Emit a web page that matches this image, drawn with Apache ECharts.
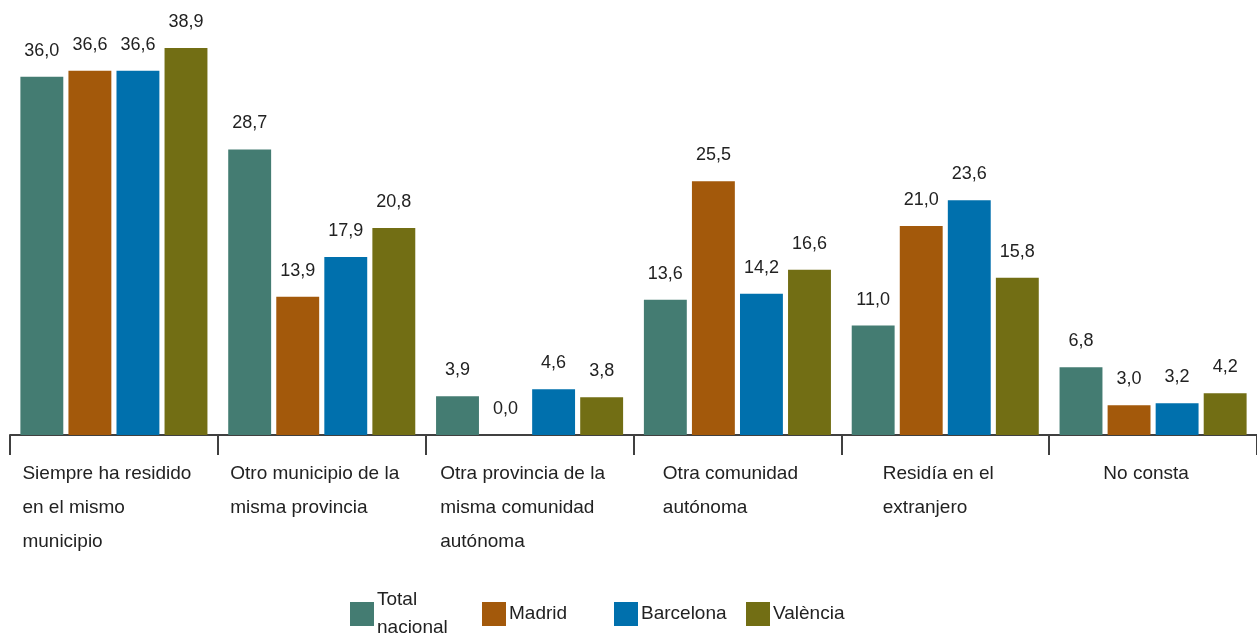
<!DOCTYPE html>
<html><head><meta charset="utf-8">
<script src="https://cdn.jsdelivr.net/npm/echarts@6/dist/echarts.min.js"></script>
<style>html,body{margin:0;padding:0;background:#fff}#c{width:1257px;height:636px}</style>
</head><body><div id="c"></div>
<script>
var categories = ["Siempre ha residido\nen el mismo\nmunicipio","Otro municipio de la\nmisma provincia","Otra provincia de la\nmisma comunidad\nautónoma","Otra comunidad\nautónoma","Residía en el\nextranjero","No consta"];
var seriesNames = ["Total nacional","Madrid","Barcelona","València"];
var totalNacional = [36.0, 28.7, 3.9, 13.6, 11.0, 6.8];
var madrid = [36.6, 13.9, 0.0, 25.5, 21.0, 3.0];
var barcelona = [36.6, 17.9, 4.6, 14.2, 23.6, 3.2];
var valencia = [38.9, 20.8, 3.8, 16.6, 15.8, 4.2];
var colors = ["#447c72","#a3590b","#0070ad","#726e14"];
var allData = [totalNacional, madrid, barcelona, valencia];

var chart = echarts.init(document.getElementById('c'));
var font = 'Liberation Sans, Arial, sans-serif';
chart.setOption({
  animation:false,
  grid:{left:10,right:0,top:37,bottom:201},
  legend:{
    left:350, top:586, padding:0, itemWidth:24, itemHeight:24, itemGap:5, icon:'rect',
    textStyle:{fontFamily:font,fontSize:19,color:'#222',width:100,overflow:'break',lineHeight:28,padding:[0,0,0,-2]},
    formatter:function(n){return n==='Total nacional'?'Total\nnacional':n;},
    data:seriesNames
  },
  xAxis:{
    type:'category', data:categories,
    axisLine:{show:true,lineStyle:{color:'#404040',width:2}},
    axisTick:{show:true,interval:0,alignWithLabel:false,length:20,lineStyle:{color:'#404040',width:2}},
    axisLabel:{interval:0,hideOverlap:false,align:'center',padding:[0,14,0,0],margin:22,verticalAlign:'top',
      fontFamily:font,fontSize:19,color:'#222',lineHeight:34,
      formatter:function(v){return v.split('\n').map(function(s){return '{l|'+s+'}';}).join('\n');},
      rich:{l:{align:'left',fontFamily:font,fontSize:19,color:'#222',lineHeight:34}}}
  },
  yAxis:{type:'value',min:0,max:40,show:false,splitLine:{show:false}},
  series: seriesNames.map(function(n,i){
    return {name:n,type:'bar',data:allData[i],barCategoryGap:'10%',barGap:'12%',
      itemStyle:{color:colors[i]},
      label:{show:true,position:'top',distance:17,fontFamily:font,fontSize:18,color:'#222',
        formatter:function(p){return p.value.toFixed(1).replace('.',',');}}};
  })
});
</script></body></html>
